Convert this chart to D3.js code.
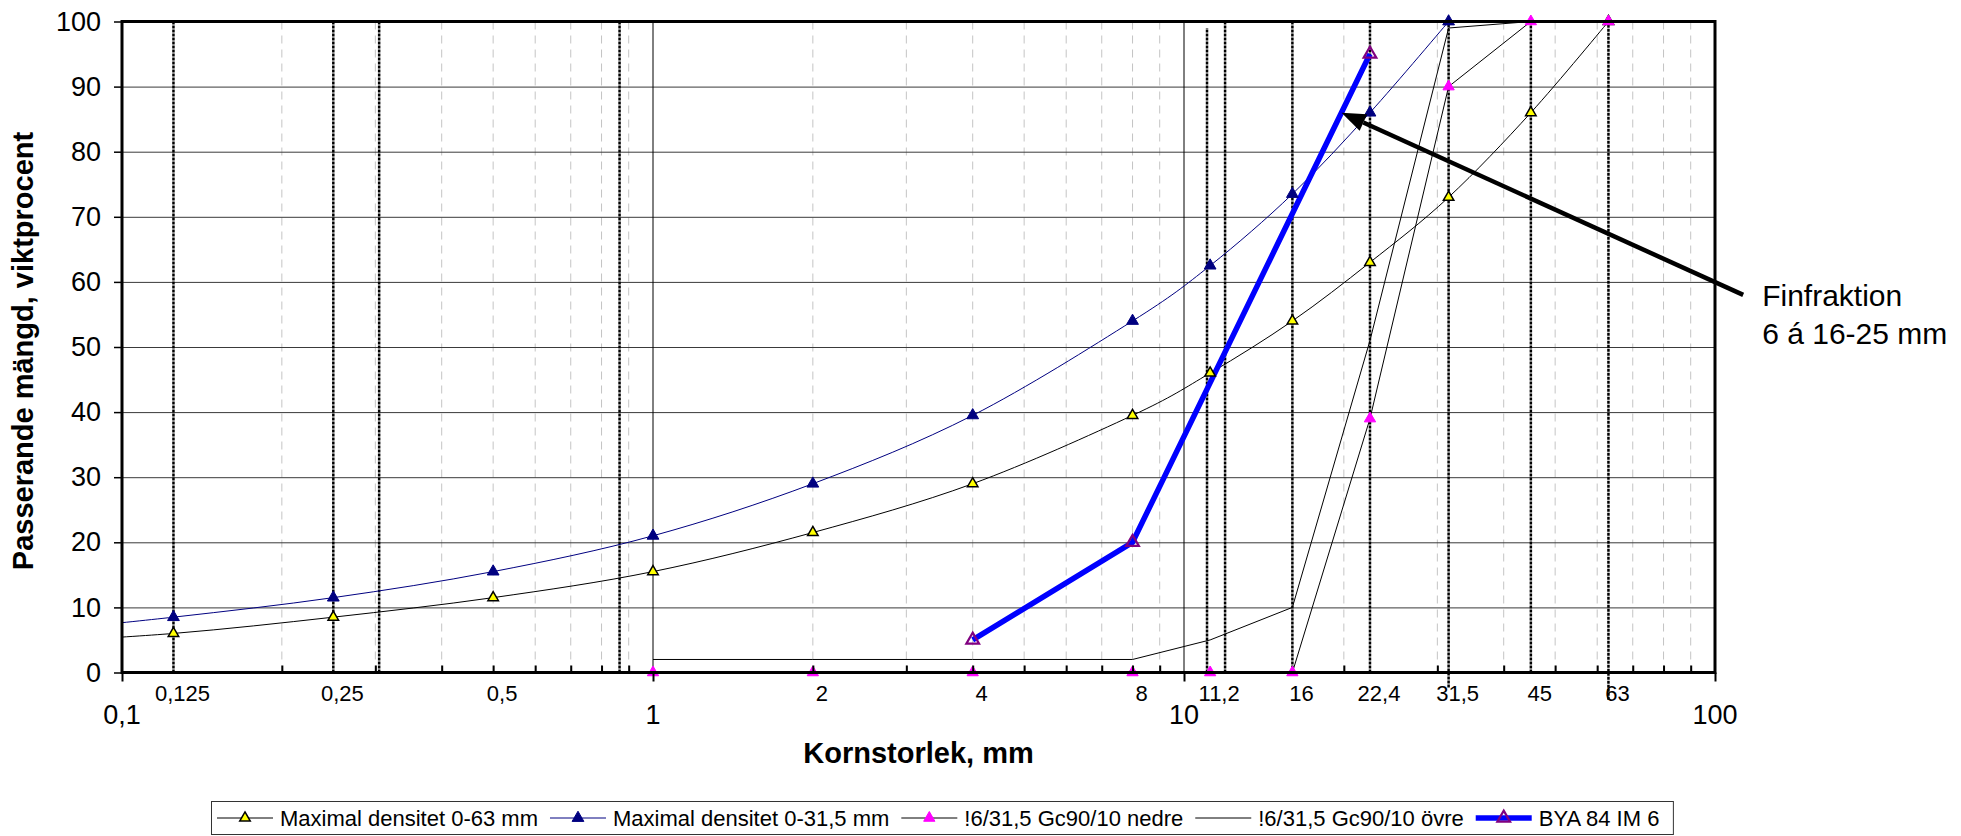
<!DOCTYPE html>
<html>
<head>
<meta charset="utf-8">
<script src="https://cdn.jsdelivr.net/npm/d3@7"></script>
<style>
  html, body { margin: 0; padding: 0; background: #fff; }
  svg { display: block; font-family: "Liberation Sans", Arial, sans-serif; }
</style>
</head>
<body>
<svg id="chart" width="1961" height="836"></svg>
<script>
// ---- Grading data: sieve size (mm) -> passing mass, weight percent ----
const sizes063 = [0.063, 0.125, 0.25, 0.5, 1, 2, 4, 8, 11.2, 16, 22.4, 31.5, 45, 63];
const maxDens063 = [4.5, 6, 8.5, 11.5, 15.5, 21.5, 29, 39.5, 46, 54, 63, 73, 86, 100];

const sizes0315 = [0.063, 0.125, 0.25, 0.5, 1, 2, 4, 8, 11.2, 16, 22.4, 31.5];
const maxDens0315 = [6, 8.5, 11.5, 15.5, 21, 29, 39.5, 54, 62.5, 73.5, 86, 100];

const sizesLimits = [1, 2, 4, 8, 11.2, 16, 22.4, 31.5, 45, 63];
const gcNedre = [0, 0, 0, 0, 0, 0, 39, 90, 100, 100];
const gcOvre = [2, 2, 2, 2, 5, 10, 51, 99, 100, 100];

const sizesBya = [4, 8, 22.4];
const bya84 = [5, 20, 95];

// Dotted sieve reference lines (size, top and bottom in percent)
const refSizes = [0.125, 0.25, 0.305, 0.865, 11.05, 11.95, 16, 22.4, 31.5, 45, 63];
const refTop = [100, 100, 100, 100, 99, 100, 100, 100, 100, 100, 100];
const refBottom = [0, 0, 0, 0, 0, 0, 0, 0, -2.3, 0, -4.2];

// Axis ticks and labels
const yTicks = [0, 10, 20, 30, 40, 50, 60, 70, 80, 90, 100];
const xMajor = [0.1, 1, 10, 100];
const xMajorLabels = ["0,1", "1", "10", "100"];
const xMinor = [0.2, 0.3, 0.4, 0.5, 0.6, 0.7, 0.8, 0.9,
                2, 3, 4, 5, 6, 7, 8, 9,
                20, 30, 40, 50, 60, 70, 80, 90];
const sieveLabelValues = [0.125, 0.25, 0.5, 2, 4, 8, 11.2, 16, 22.4, 31.5, 45, 63];
const sieveLabelTexts = ["0,125", "0,25", "0,5", "2", "4", "8", "11,2", "16", "22,4", "31,5", "45", "63"];

// Annotation arrow (data coordinates) and its text
const arrowFrom = [113, 58];
const arrowTo = [19.8, 86];
const noteLines = ["Finfraktion", "6 á 16-25 mm"];

// ---- Layout ----
const plot = { left: 122, right: 1715, top: 21.5, bottom: 672.5 };
const x = d3.scaleLog().domain([0.1, 100]).range([plot.left, plot.right]);
const y = d3.scaleLinear().domain([0, 100]).range([plot.bottom, plot.top]);
const svg = d3.select("#chart");
const zip = (xs, ys) => xs.map((v, i) => [v, ys[i]]);

svg.append("defs").append("clipPath").attr("id", "plotClip")
  .append("rect")
  .attr("x", plot.left).attr("y", plot.top - 2)
  .attr("width", plot.right - plot.left).attr("height", plot.bottom - plot.top + 4);

// minor vertical gridlines (dashed, light grey)
svg.append("g").selectAll("line").data(xMinor).join("line")
  .attr("x1", d => x(d)).attr("x2", d => x(d))
  .attr("y1", plot.top).attr("y2", plot.bottom)
  .attr("stroke", "#c4c4c4").attr("stroke-width", 1)
  .attr("stroke-dasharray", "8,6");

// horizontal gridlines
svg.append("g").attr("transform", `translate(${plot.left},0)`)
  .call(d3.axisLeft(y).tickValues(yTicks).tickSize(-(plot.right - plot.left)).tickFormat(""))
  .call(g => g.select(".domain").remove())
  .call(g => g.selectAll("line").attr("stroke", "#3a3a3a").attr("stroke-width", 1));

// major vertical gridlines
svg.append("g").selectAll("line").data(xMajor.slice(1, -1)).join("line")
  .attr("x1", d => x(d)).attr("x2", d => x(d))
  .attr("y1", plot.top).attr("y2", plot.bottom)
  .attr("stroke", "#000").attr("stroke-width", 1);

// dotted sieve lines
svg.append("g").selectAll("line").data(refSizes).join("line")
  .attr("x1", d => x(d)).attr("x2", d => x(d))
  .attr("y1", (d, i) => y(refBottom[i])).attr("y2", (d, i) => y(refTop[i]))
  .attr("stroke", "#000").attr("stroke-width", 2.5)
  .attr("stroke-dasharray", "3,1");

// ---- Series ----
const smooth = d3.line().x(d => x(d[0])).y(d => y(d[1])).curve(d3.curveCardinal.tension(0));
const straight = d3.line().x(d => x(d[0])).y(d => y(d[1]));
const inRange = d => d[0] >= 0.1 && d[0] <= 100;
const lines = svg.append("g").attr("clip-path", "url(#plotClip)");
const markers = svg.append("g");
const tri = s => d3.symbol().type(d3.symbolTriangle).size(s)();

const series = [
  { name: "Maximal densitet 0-63 mm", data: zip(sizes063, maxDens063), gen: smooth,
    stroke: "#000", width: 1, marker: { size: 48, fill: "#ffff00", stroke: "#000", sw: 1.5 } },
  { name: "Maximal densitet 0-31,5 mm", data: zip(sizes0315, maxDens0315), gen: smooth,
    stroke: "#000080", width: 1, marker: { size: 60, fill: "#000080", stroke: "#000080", sw: 1 } },
  { name: "!6/31,5 Gc90/10 nedre", data: zip(sizesLimits, gcNedre), gen: straight,
    stroke: "#000", width: 1, marker: { size: 55, fill: "#ff00ff", stroke: "#ff00ff", sw: 1 } },
  { name: "!6/31,5 Gc90/10 övre", data: zip(sizesLimits, gcOvre), gen: straight,
    stroke: "#000", width: 1, marker: null },
  { name: "BYA 84 IM 6", data: zip(sizesBya, bya84), gen: straight,
    stroke: "#0000ff", width: 5.5, marker: { size: 70, fill: "none", stroke: "#800080", sw: 2.2 } }
];

series.forEach(s => {
  lines.append("path").datum(s.data)
    .attr("d", s.gen).attr("fill", "none")
    .attr("stroke", s.stroke).attr("stroke-width", s.width)
    .attr("stroke-linejoin", "round");
});
series.forEach(s => {
  if (!s.marker) return;
  markers.append("g").selectAll("path").data(s.data.filter(inRange)).join("path")
    .attr("transform", d => `translate(${x(d[0])},${y(d[1])})`)
    .attr("d", tri(s.marker.size))
    .attr("fill", s.marker.fill).attr("stroke", s.marker.stroke)
    .attr("stroke-width", s.marker.sw);
});

// ---- Axes ----
// y axis ticks and labels
svg.append("g").attr("transform", `translate(${plot.left},0)`)
  .call(d3.axisLeft(y).tickValues(yTicks).tickSize(8).tickPadding(13))
  .call(g => g.select(".domain").remove())
  .call(g => g.selectAll("line").attr("stroke", "#000").attr("stroke-width", 1.5))
  .call(g => g.selectAll("text").attr("font-size", 27).attr("fill", "#000")
    .attr("font-family", "Liberation Sans, Arial, sans-serif"));

// x axis: major ticks outside, minor ticks inside
svg.append("g").attr("transform", `translate(0,${plot.bottom})`)
  .call(d3.axisBottom(x).tickValues(xMajor).tickSize(9).tickFormat(""))
  .call(g => g.select(".domain").remove())
  .call(g => g.selectAll("line").attr("stroke", "#000").attr("stroke-width", 2));
svg.append("g").attr("transform", `translate(0,${plot.bottom})`)
  .call(d3.axisBottom(x).tickValues(xMinor).tickSize(-7).tickFormat(""))
  .call(g => g.select(".domain").remove())
  .call(g => g.selectAll("line").attr("stroke", "#000").attr("stroke-width", 2));

// plot frame
svg.append("rect")
  .attr("x", plot.left).attr("y", plot.top)
  .attr("width", plot.right - plot.left).attr("height", plot.bottom - plot.top)
  .attr("fill", "none").attr("stroke", "#000").attr("stroke-width", 3);

// x labels
svg.append("g").selectAll("text").data(xMajor).join("text")
  .attr("x", d => x(d)).attr("y", 724)
  .attr("text-anchor", "middle").attr("font-size", 27)
  .text((d, i) => xMajorLabels[i]);
svg.append("g").selectAll("text").data(sieveLabelValues).join("text")
  .attr("x", d => x(d) + 9).attr("y", 701)
  .attr("text-anchor", "middle").attr("font-size", 22)
  .text((d, i) => sieveLabelTexts[i]);

// axis titles
svg.append("text")
  .attr("x", (plot.left + plot.right) / 2).attr("y", 763)
  .attr("text-anchor", "middle").attr("font-size", 29).attr("font-weight", "bold")
  .text("Kornstorlek, mm");
svg.append("text")
  .attr("transform", `translate(33,${(plot.top + plot.bottom) / 2 + 4}) rotate(-90)`)
  .attr("text-anchor", "middle").attr("font-size", 29).attr("font-weight", "bold")
  .text("Passerande mängd, viktprocent");

// ---- Annotation arrow ----
const ax0 = x(arrowFrom[0]), ay0 = y(arrowFrom[1]);
const ax1 = x(arrowTo[0]), ay1 = y(arrowTo[1]);
const ang = Math.atan2(ay1 - ay0, ax1 - ax0);
const headLen = 24, headHalf = 9;
const bx = ax1 - headLen * Math.cos(ang), by = ay1 - headLen * Math.sin(ang);
svg.append("line")
  .attr("x1", ax0).attr("y1", ay0).attr("x2", bx).attr("y2", by)
  .attr("stroke", "#000").attr("stroke-width", 4.5);
svg.append("path")
  .attr("d", `M${ax1},${ay1}L${bx + headHalf * Math.sin(ang)},${by - headHalf * Math.cos(ang)}` +
             `L${bx - headHalf * Math.sin(ang)},${by + headHalf * Math.cos(ang)}Z`)
  .attr("fill", "#000");
svg.append("g").selectAll("text").data(noteLines).join("text")
  .attr("x", ax0 + 19).attr("y", (d, i) => ay0 + 11 + i * 38.5)
  .attr("font-size", 30)
  .text(d => d);

// ---- Legend ----
const legend = svg.append("g");
const legendBox = legend.append("rect")
  .attr("x", 211.5).attr("y", 801.5).attr("height", 33)
  .attr("fill", "#fff").attr("stroke", "#333").attr("stroke-width", 1);
let lx = 217;
const ly = 818;
series.forEach(s => {
  const item = legend.append("g");
  item.append("line").attr("x1", lx).attr("x2", lx + 56).attr("y1", ly).attr("y2", ly)
    .attr("stroke", s.stroke).attr("stroke-width", s.width);
  if (s.marker) {
    item.append("path").attr("transform", `translate(${lx + 28},${ly})`)
      .attr("d", tri(s.marker.size))
      .attr("fill", s.marker.fill).attr("stroke", s.marker.stroke)
      .attr("stroke-width", s.marker.sw);
  }
  const t = item.append("text").attr("x", lx + 63).attr("y", ly + 8)
    .attr("font-size", 22).text(s.name);
  lx += 63 + t.node().getComputedTextLength() + 12;
});
legendBox.attr("width", lx - 211.5 + 2);
</script>
</body>
</html>
